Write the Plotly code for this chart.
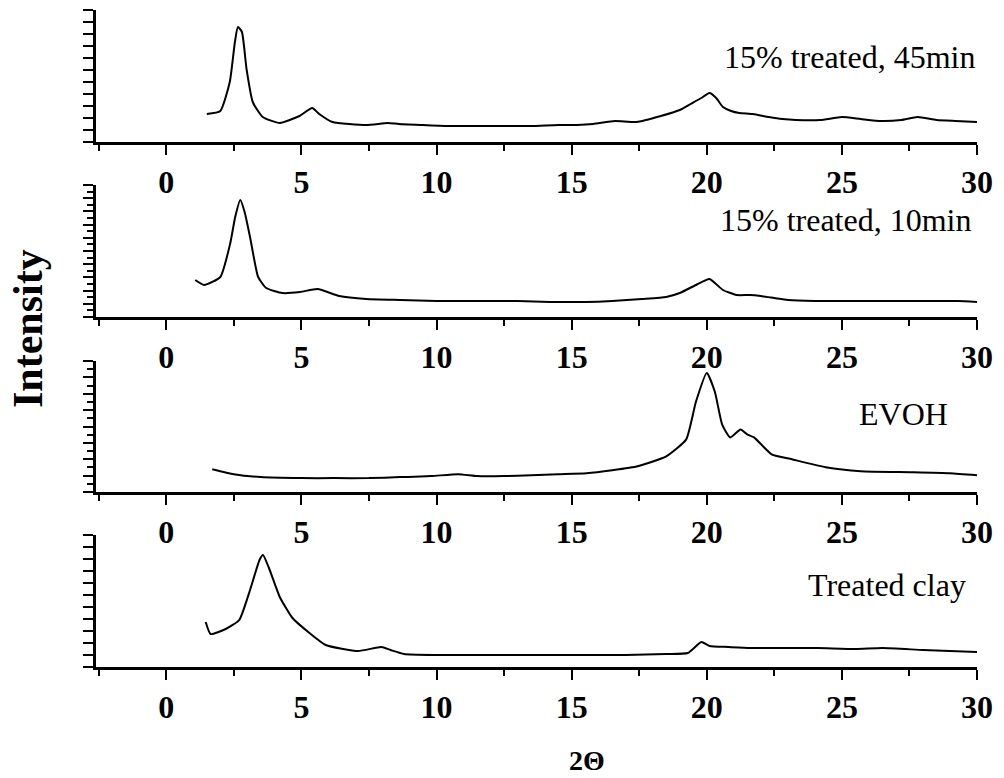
import plotly.graph_objects as go

# ---- data (2-theta in degrees, intensity in arbitrary units) ----
x_45min = [1.5, 2.0, 2.35, 2.54, 2.65, 2.8, 2.97, 3.2, 3.57, 4.2, 4.93, 5.4, 5.66, 6.15, 7.4, 8.2, 8.6, 9.5,
           10.5, 11.5, 12.5, 13.5, 14.5, 15.2, 15.8, 16.6, 17.4, 18.3, 19.0, 19.4, 19.8, 20.1, 20.35, 20.6,
           20.9, 21.2, 21.7, 22.3, 22.8, 23.3, 24.2, 25.0, 25.7, 26.45, 27.2, 27.8, 28.5, 29.2, 30.0]
y_45min = [28, 31, 60, 100, 115, 110, 73, 40, 25, 19, 26, 34, 28, 20, 17, 19, 18, 17,
           16, 16, 16, 16, 17, 17, 18, 21, 20, 26, 32, 38, 44, 49, 44, 35,
           31, 29, 28, 25, 23, 22, 22, 25, 23, 21, 22, 25, 22, 21, 20]

x_10min = [1.07, 1.4, 2.0, 2.37, 2.55, 2.74, 2.9, 3.1, 3.4, 3.7, 4.3, 4.95, 5.6, 6.4, 7.4, 8.65, 10, 11.5,
           13, 14.2, 15.5, 16.5, 17.6, 18.5, 19.0, 19.6, 20.1, 20.6, 21.1, 21.6, 22.0, 22.5, 23.0, 24.0,
           25.5, 27.0, 28.5, 29.3, 30.0]
y_10min = [37, 32, 40, 74, 100, 117, 105, 80, 40, 29, 24, 25, 28, 21, 18, 17, 16, 16,
           16, 15, 15, 16, 18, 20, 24, 32, 38, 27, 22, 22, 21, 19, 17, 16,
           16, 16, 16, 16, 15]

x_evoh = [1.7, 2.5, 3.5, 5, 6.2, 7.5, 8.65, 9.8, 10.8, 11.5, 12.5, 13.5, 14.5, 15.55, 16.5, 17.45, 18.5,
          19.24, 19.6, 20.0, 20.3, 20.57, 20.87, 21.25, 21.5, 21.75, 22.4, 23.15, 24.4, 25.7, 27.6, 29.0, 30.0]
y_evoh = [23, 18, 15, 14, 14, 14, 15, 16, 18, 16, 16, 17, 18, 19, 22, 26, 36,
          53, 91, 120, 101, 68, 55, 63, 58, 55, 38, 33, 25, 21, 20, 19, 17]

x_clay = [1.46, 1.64, 2.2, 2.7, 3.1, 3.45, 3.58, 3.8, 4.2, 4.67, 5.3, 5.9, 7.1, 7.96, 8.3, 8.8, 10, 11.5,
          13, 14.0, 15.5, 17, 18.5, 19.3, 19.8, 20.1, 20.8, 21.6, 23, 24.1, 25.5, 26.5, 28, 29, 30]
y_clay = [45, 33, 38, 47, 77, 107, 112, 99, 70, 49, 34, 22, 16, 20, 17, 13, 12, 12,
          12, 12, 12, 12, 13, 14, 25, 21, 20, 19, 19, 19, 18, 19, 17, 16, 15]

labels = ["15% treated, 45min", "15% treated, 10min", "EVOH", "Treated clay"]
x_ticks = [0, 5, 10, 15, 20, 25, 30]
X_RANGE = [-2.6, 30.0]
Y_RANGE = [0, 132]

# ---- layout geometry ----
W, H = 1004, 778
series = [(x_45min, y_45min), (x_10min, y_10min), (x_evoh, y_evoh), (x_clay, y_clay)]
panel_px = [(10, 142), (185, 317), (361, 492), (535, 667)]  # top, bottom in pixels
label_px = [(977, 57), (973, 220), (950, 414), (968, 585)]  # right edge, center y
ytick_major = [12, 13.2, 16.5, 12]
ytick_minor = [None, 6.6, 8.25, None]

fig = go.Figure()
serif = "Liberation Serif, Times New Roman, serif"

for i, (xs, ys) in enumerate(series):
    n = i + 1
    xa = "x" if n == 1 else f"x{n}"
    ya = "y" if n == 1 else f"y{n}"
    fig.add_trace(go.Scatter(x=xs, y=ys, mode="lines", xaxis=xa, yaxis=ya,
                             line=dict(color="black", width=2, shape="spline", smoothing=0.5),
                             showlegend=False, hoverinfo="skip"))
    top, bot = panel_px[i]
    dom_y = [1 - bot / H, 1 - top / H]
    xkey = "xaxis" if n == 1 else f"xaxis{n}"
    ykey = "yaxis" if n == 1 else f"yaxis{n}"
    fig.layout[xkey] = dict(
        domain=[96 / W, 977 / W], range=X_RANGE, anchor=ya, automargin=False,
        showgrid=False, zeroline=False, showline=True, linecolor="black", linewidth=2.5,
        ticks="outside", ticklen=10, tickwidth=2, tickcolor="black",
        tickvals=x_ticks, ticktext=[str(t) for t in x_ticks],
        tickfont=dict(family=serif, size=32, color="black", weight="bold"),
        ticklabelstandoff=0,
        minor=dict(ticks="outside", ticklen=6, tickwidth=2, tickcolor="black", dtick=2.5, tick0=0, showgrid=False),
    )
    yd = dict(
        domain=dom_y, range=Y_RANGE, anchor=xa, automargin=False,
        showgrid=False, zeroline=False, showline=True, linecolor="black", linewidth=2.5,
        ticks="outside", ticklen=10, tickwidth=2, tickcolor="black",
        tick0=0, dtick=ytick_major[i], showticklabels=False,
    )
    if ytick_minor[i]:
        yd["minor"] = dict(ticks="outside", ticklen=6, tickwidth=2, tickcolor="black",
                           dtick=ytick_minor[i], tick0=0, showgrid=False)
    fig.layout[ykey] = yd
    rx, cy = label_px[i]
    fig.add_annotation(text=labels[i], xref="paper", yref="paper", x=rx / W, y=1 - cy / H,
                       xanchor="right", yanchor="middle", showarrow=False,
                       font=dict(family=serif, size=32, color="black"))

fig.add_annotation(text="Intensity", xref="paper", yref="paper", x=28 / W, y=1 - 329 / H,
                   textangle=-90, xanchor="center", yanchor="middle", showarrow=False,
                   font=dict(family=serif, size=42, color="black", weight="bold"))
fig.add_annotation(text="2Θ", xref="paper", yref="paper", x=587 / W, y=1 - 760 / H,
                   xanchor="center", yanchor="middle", showarrow=False,
                   font=dict(family=serif, size=28, color="black", weight="bold"))

fig.update_layout(width=W, height=H, margin=dict(l=0, r=0, t=0, b=0),
                  paper_bgcolor="white", plot_bgcolor="white")
fig.write_html("out.html", config={"responsive": False, "displayModeBar": False},
               post_script="document.body.style.margin='0';document.body.style.overflow='hidden';")
